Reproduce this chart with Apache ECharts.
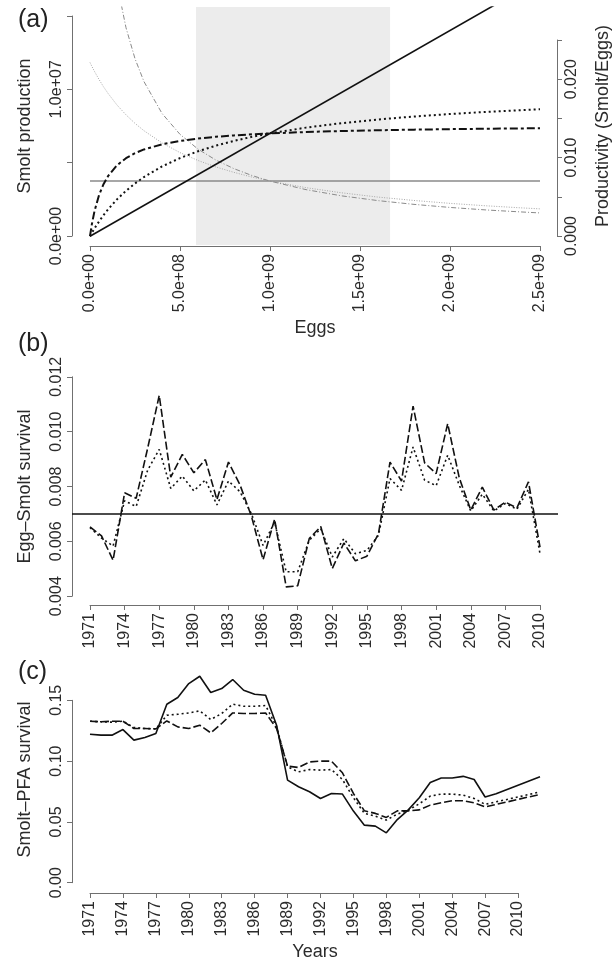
<!DOCTYPE html>
<html><head><meta charset="utf-8">
<script src="https://cdn.jsdelivr.net/npm/echarts@6/dist/echarts.min.js"></script>
<style>html,body{margin:0;padding:0;background:#fff}#c{width:614px;height:965px}</style>
</head><body><div id="c"></div>
<script>
// ---------- Panel (a) data ----------
const eggs = [0, 1e7, 2.5e7, 5e7, 7.5e7, 1e8, 1.5e8, 2e8, 2.5e8, 3e8, 4e8, 5e8, 6e8, 7e8, 8e8, 9e8, 1e9, 1.2e9, 1.4e9, 1.6e9, 1.8e9, 2e9, 2.2e9, 2.4e9, 2.5e9];
// smolt production (millions) - dash-dot curve
const smoltDashDot = [0, 0.790, 1.709, 2.790, 3.536, 4.082, 4.826, 5.311, 5.651, 5.904, 6.253, 6.482, 6.645, 6.767, 6.861, 6.936, 6.997, 7.091, 7.159, 7.211, 7.253, 7.286, 7.313, 7.336, 7.347];
// smolt production (millions) - dotted curve
const smoltDotted = [0, 0.217, 0.525, 0.998, 1.427, 1.819, 2.506, 3.089, 3.590, 4.026, 4.746, 5.317, 5.780, 6.163, 6.486, 6.762, 6.999, 7.389, 7.695, 7.942, 8.145, 8.315, 8.460, 8.584, 8.640];
// productivity (smolt/eggs)
const prodDotted = [0.02212, 0.02165, 0.02098, 0.01996, 0.01903, 0.01819, 0.01670, 0.01545, 0.01436, 0.01342, 0.01187, 0.01063, 0.00963, 0.00880, 0.00811, 0.00751, 0.00700, 0.00616, 0.00550, 0.00496, 0.00453, 0.00416, 0.00385, 0.00358, 0.00346];
const prodDashDot = [null, null, null, null, null, 0.0408, 0.03218, 0.02656, 0.02261, 0.01968, 0.01563, 0.01296, 0.01108, 0.00967, 0.00858, 0.00771, 0.00700, 0.00591, 0.00511, 0.00451, 0.00403, 0.00364, 0.00332, 0.00306, 0.00294];
// linear model
const linEggs = [0, 2.5e9];
const linSmolt = [0, 1.75e7];
const linProd = [0.007, 0.007];
const shadedEggs = [0.589e9, 1.667e9];

// ---------- Panel (b) data ----------
const yearsB = [1971,1972,1973,1974,1975,1976,1977,1978,1979,1980,1981,1982,1983,1984,1985,1986,1987,1988,1989,1990,1991,1992,1993,1994,1995,1996,1997,1998,1999,2000,2001,2002,2003,2004,2005,2006,2007,2008,2009,2010];
const eggSmoltDashed = [0.00653,0.00620,0.00531,0.00777,0.00757,0.00940,0.01132,0.00834,0.00917,0.00850,0.00898,0.00752,0.00889,0.00806,0.00690,0.00533,0.00681,0.00434,0.00438,0.00610,0.00654,0.00501,0.00594,0.00529,0.00546,0.00628,0.00889,0.00820,0.01093,0.00886,0.00847,0.01029,0.00832,0.00714,0.00798,0.00714,0.00743,0.00722,0.00817,0.00579];
const eggSmoltDotted = [0.00650,0.00612,0.00583,0.00748,0.00727,0.00860,0.00935,0.00793,0.00838,0.00784,0.00824,0.00733,0.00820,0.00781,0.00700,0.00585,0.00670,0.00489,0.00489,0.00604,0.00646,0.00543,0.00610,0.00555,0.00567,0.00622,0.00829,0.00786,0.00944,0.00823,0.00803,0.00914,0.00805,0.00711,0.00772,0.00711,0.00738,0.00717,0.00790,0.00555];
const eggSmoltRef = 0.007;

// ---------- Panel (c) data ----------
const yearsC = [1971,1972,1973,1974,1975,1976,1977,1978,1979,1980,1981,1982,1983,1984,1985,1986,1987,1988,1989,1990,1991,1992,1993,1994,1995,1996,1997,1998,1999,2000,2001,2002,2003,2004,2005,2006,2007,2008,2009,2010,2011,2012];
const pfaSolid = [0.1223,0.1215,0.1215,0.1261,0.1174,0.1196,0.1229,0.1470,0.1525,0.1640,0.1700,0.1566,0.1599,0.1673,0.1585,0.1552,0.1544,0.1297,0.0845,0.0790,0.0749,0.0694,0.0735,0.0730,0.0590,0.0474,0.0466,0.0411,0.0520,0.0600,0.0700,0.0825,0.0862,0.0862,0.0876,0.0850,0.0706,0.0733,0.0768,0.0803,0.0838,0.0872];
const pfaDotted = [0.1330,0.1325,0.1322,0.1330,0.1278,0.1270,0.1267,0.1379,0.1387,0.1398,0.1415,0.1344,0.1393,0.1470,0.1453,0.1453,0.1459,0.1283,0.0954,0.0913,0.0932,0.0927,0.0932,0.0850,0.0700,0.0571,0.0548,0.0516,0.0565,0.0597,0.0650,0.0713,0.0730,0.0730,0.0721,0.0694,0.0645,0.0666,0.0686,0.0706,0.0727,0.0748];
const pfaDashed = [0.1330,0.1325,0.1330,0.1330,0.1270,0.1270,0.1267,0.1332,0.1283,0.1270,0.1297,0.1234,0.1311,0.1398,0.1393,0.1393,0.1398,0.1270,0.0960,0.0949,0.0995,0.1001,0.1001,0.0905,0.0735,0.0592,0.0571,0.0538,0.0592,0.0592,0.0600,0.0639,0.0658,0.0675,0.0675,0.0658,0.0625,0.0645,0.0665,0.0686,0.0707,0.0727];

// ---------- helpers ----------
const FONT = "'Liberation Sans', Arial, Helvetica, sans-serif";
const TXT = '#2b2b2b', AX = '#707070';
const pair = (xs, ys, k) => xs.map((x, i) => [x, ys[i] == null ? null : ys[i] * (k || 1)]);
function sci(v) {
  if (Math.abs(v) < 1) return '0.0e+00';
  const e = Math.floor(Math.log10(Math.abs(v)) + 1e-9);
  const m = v / Math.pow(10, e);
  return m.toFixed(1) + 'e+' + (e < 10 ? '0' : '') + e;
}
const G = (left, top, width, height) => ({left, top, width, height, containLabel: false, outerBoundsMode: 'none', show: false});
const hid = (gridIndex, min, max) => ({gridIndex, type: 'value', min, max, show: false});
function dispAxis(gridIndex, min, max, interval, fmt, extra) {
  return Object.assign({
    gridIndex, type: 'value', min, max, interval,
    axisLine: {show: true, onZero: false, lineStyle: {color: AX, width: 1}},
    axisTick: {show: true, length: 5, inside: false, lineStyle: {color: AX, width: 1}},
    axisLabel: {show: true, rotate: 90, margin: 8, fontSize: 16, color: TXT, fontFamily: FONT, formatter: fmt, showMinLabel: true, showMaxLabel: true, hideOverlap: false},
    splitLine: {show: false}
  }, extra || {});
}
function titleAxis(gridIndex, min, max, name, gap, extra) {
  return Object.assign({
    gridIndex, type: 'value', min, max,
    axisLine: {show: false}, axisTick: {show: false}, axisLabel: {show: false}, splitLine: {show: false},
    name, nameLocation: 'middle', nameGap: gap,
    nameTextStyle: {fontSize: 18, color: TXT, fontFamily: FONT}
  }, extra || {});
}
const ln = (name, xi, yi, data, color, width, type, extra) => Object.assign({
  name, type: 'line', xAxisIndex: xi, yAxisIndex: yi, data, showSymbol: false, symbol: 'none',
  connectNulls: false, clip: true, silent: true,
  lineStyle: {color, width, type}
}, extra || {});
const yLab = (fmt) => ({axisLabel: {show: true, rotate: 90, margin: 7, fontSize: 16, color: TXT, fontFamily: FONT, formatter: fmt}});

const option = {
  animation: false,
  backgroundColor: '#ffffff',
  title: [
    {text: '(a)', left: 13, top: 3, textStyle: {fontSize: 25, fontWeight: 'normal', color: '#222', fontFamily: FONT}},
    {text: '(b)', left: 13, top: 327, textStyle: {fontSize: 25, fontWeight: 'normal', color: '#222', fontFamily: FONT}},
    {text: '(c)', left: 13, top: 655, textStyle: {fontSize: 25, fontWeight: 'normal', color: '#222', fontFamily: FONT}}
  ],
  grid: [
    G(72, 7, 486, 238),        // 0 a data
    G(90, 7, 450, 239),        // 1 a x display
    G(72, 16, 486, 220),       // 2 a left y display
    G(72, 40, 485, 196),       // 3 a right y display
    G(72, 368, 486, 237),      // 4 b data
    G(90, 368, 450, 237),      // 5 b x display
    G(72, 376.8, 486, 219.4),  // 6 b y display
    G(72, 668, 486, 223),      // 7 c data
    G(90, 668, 428.07, 225),   // 8 c x display
    G(72, 700.3, 486, 182.4)   // 9 c y display
  ],
  xAxis: [
    hid(0, -1e8, 2.6e9),
    dispAxis(1, 0, 2.5e9, 5e8, sci, {name: 'Eggs', nameLocation: 'middle', nameGap: 73, nameTextStyle: {fontSize: 18, color: TXT, fontFamily: FONT}}),
    hid(2, 0, 1),
    hid(3, 0, 1),
    hid(4, 1969.44, 2011.56),
    dispAxis(5, 1971, 2010, 3, v => String(Math.round(v))),
    hid(6, 0, 1),
    titleAxis(7, 1969.36, 2013.64, 'Years', 52),
    dispAxis(8, 1971, 2010, 3, v => String(Math.round(v))),
    hid(9, 0, 1)
  ],
  yAxis: [
    titleAxis(0, -6e5, 1.56e7, 'Smolt production', 38, {nameRotate: 90}),
    titleAxis(0, -0.00115, 0.0292, 'Productivity (Smolt/Eggs)', 36, {nameRotate: 90, position: 'right'}),
    hid(1, 0, 1),
    dispAxis(2, 0, 1.5e7, 5e6, null, yLab(v => (Math.round(v / 5e6) % 2 === 0 ? sci(v) : ''))),
    dispAxis(3, 0, 0.025, 0.005, null, Object.assign({position: 'right'}, yLab(v => (Math.round(v * 1000) % 10 === 0 ? (Math.round(v * 1000) / 1000).toFixed(3) : '')))),
    titleAxis(4, 0.00368, 0.01232, 'Egg\u2013Smolt survival', 38, {nameRotate: 90}),
    hid(5, 0, 1),
    dispAxis(6, 0.004, 0.012, 0.002, null, yLab(v => v.toFixed(3))),
    titleAxis(7, -0.0068, 0.1768, 'Smolt\u2013PFA survival', 38, {nameRotate: 90}),
    hid(8, 0, 1),
    dispAxis(9, 0, 0.15, 0.05, null, yLab(v => v.toFixed(2)))
  ],
  series: [
    // shaded egg range
    ln('shade', 0, 0, [], '#000', 0, 'solid', {z: 0, markArea: {silent: true, itemStyle: {color: '#ececec'}, data: [[{xAxis: shadedEggs[0]}, {xAxis: shadedEggs[1]}]]}}),
    // productivity curves (right axis)
    ln('prodLinear', 0, 1, pair(linEggs, linProd), '#8a8a8a', 1.5, 'solid', {z: 2}),
    ln('prodDotted', 0, 1, pair(eggs, prodDotted), '#a8a8a8', 1, [1, 1.5], {z: 2}),
    ln('prodDashDot', 0, 1, pair(eggs, prodDashDot), '#8a8a8a', 1, [5, 2, 1, 2], {z: 2}),
    // smolt production curves (left axis)
    ln('smoltLinear', 0, 0, pair(linEggs, linSmolt), '#111', 1.6, 'solid', {z: 3}),
    ln('smoltDotted', 0, 0, pair(eggs, smoltDotted, 1e6), '#111', 2, [2, 3], {z: 3}),
    ln('smoltDashDot', 0, 0, pair(eggs, smoltDashDot, 1e6), '#111', 2, [8, 3, 3, 3], {z: 3}),
    // panel b
    ln('bDotted', 4, 5, pair(yearsB, eggSmoltDotted), '#111', 1.6, [2, 3], {z: 3}),
    ln('bDashed', 4, 5, pair(yearsB, eggSmoltDashed), '#111', 1.6, [8, 3], {z: 3,
      markLine: {silent: true, precision: 6, symbol: ['none', 'none'], label: {show: false}, lineStyle: {color: '#111', width: 1.6, type: 'solid'}, data: [{yAxis: eggSmoltRef}]}}),
    // panel c
    ln('cSolid', 7, 8, pair(yearsC, pfaSolid), '#111', 1.6, 'solid', {z: 3}),
    ln('cDotted', 7, 8, pair(yearsC, pfaDotted), '#111', 1.6, [2, 3], {z: 3}),
    ln('cDashed', 7, 8, pair(yearsC, pfaDashed), '#111', 1.6, [8, 3], {z: 3})
  ]
};
const chart = echarts.init(document.getElementById('c'), null, {renderer: 'canvas'});
chart.setOption(option);
</script>
</body></html>
